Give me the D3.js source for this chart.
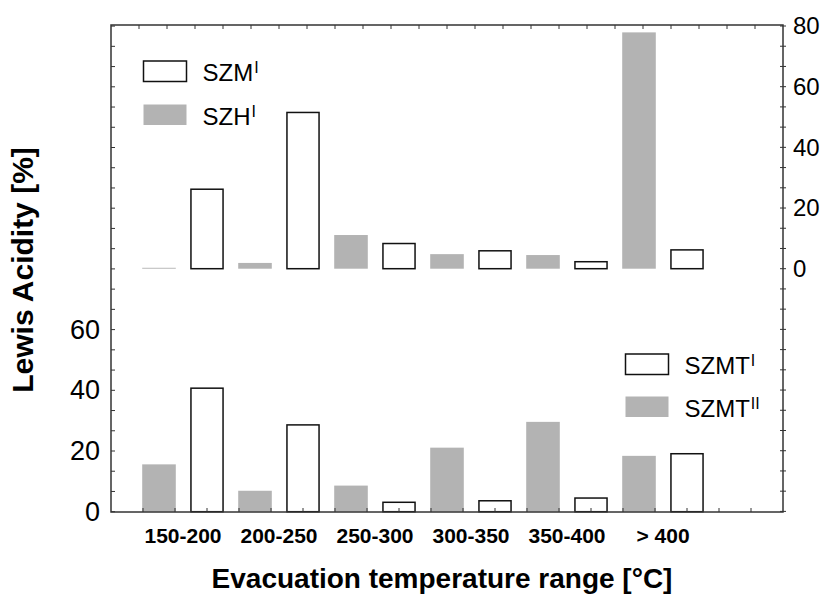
<!DOCTYPE html>
<html>
<head>
<meta charset="utf-8">
<script src="https://cdn.jsdelivr.net/npm/d3@7"></script>
<style>
  body { margin: 0; background: #fff; }
  svg { display: block; font-family: "Liberation Sans", Arial, sans-serif; }
</style>
</head>
<body>
<div id="chart"></div>
<script>
// values
var categories = ["150-200", "200-250", "250-300", "300-350", "350-400", "> 400"];
var szh1 = [0.3, 1.9, 11.1, 4.8, 4.5, 77.9];     // top panel, grey
var szm1 = [26.2, 51.5, 8.3, 5.9, 2.3, 6.2];     // top panel, white
var szmt2 = [15.6, 6.9, 8.6, 21.1, 29.6, 18.4];  // bottom panel, grey
var szmt1 = [40.7, 28.6, 3.1, 3.6, 4.5, 19.1];   // bottom panel, white
var topTicks = [0, 20, 40, 60, 80];
var bottomTicks = [0, 20, 40, 60];

var width = 826;
var height = 595;
var frame = {"left": 111, "right": 783, "top": 25, "bottom": 512};
var grey = "#b3b3b3";
var ink = "#000";
var line_color = "#333";

var svg = d3.select("#chart").append("svg")
    .attr("width", width)
    .attr("height", height);

// scales
var x = d3.scaleBand().domain(categories).range([135, 711]);
var xSub = d3.scaleBand().domain(["grey", "white"])
    .range([0, x.bandwidth()])
    .paddingInner(0.3)
    .paddingOuter(0.15);
var yTop = d3.scaleLinear().domain([0, 80]).range([268.7, 26]);
var yBot = d3.scaleLinear().domain([0, 60]).range([511.7, 329.6]);

function rows(greyVals, whiteVals) {
    var out = [];
    categories.forEach(function(c, i) {
        out.push({"cat": c, "key": "grey", "v": greyVals[i]});
        out.push({"cat": c, "key": "white", "v": whiteVals[i]});
    });
    return out;
}

function drawBars(data, y) {
    svg.append("g").selectAll("rect")
        .data(data)
        .enter()
        .append("rect")
        .attr("x", function(d) { return x(d.cat) + xSub(d.key) + (d.key == "white" ? 0.75 : 0); })
        .attr("width", function(d) { return xSub.bandwidth() - (d.key == "white" ? 1.5 : 0); })
        .attr("y", function(d) { return y(d.v); })
        .attr("height", function(d) { return y(0) - y(d.v); })
        .attr("fill", function(d) { return d.key == "grey" ? grey : "#fff"; })
        .attr("stroke", function(d) { return d.key == "white" ? "#111" : "none"; })
        .attr("stroke-width", 1.5);
}

drawBars(rows(szh1, szm1), yTop);
drawBars(rows(szmt2, szmt1), yBot);

// minor ticks on the frame
var tickG = svg.append("g").attr("stroke", line_color).attr("stroke-width", 1);
d3.range(0, 25).forEach(function(k) {
    var yy = yBot(k * 20 / 3);
    if (yy >= frame.top) tickG.append("line").attr("x1", frame.left).attr("x2", frame.left + 4).attr("y1", yy).attr("y2", yy);
});
d3.range(-12, 13).forEach(function(k) {
    var yy = yTop(k * 20 / 3);
    if (yy >= frame.top && yy <= frame.bottom) tickG.append("line").attr("x1", frame.right - 3).attr("x2", frame.right + 3).attr("y1", yy).attr("y2", yy);
});
var xTopTicks = d3.scaleLinear().domain([0, 24]).range([frame.left, frame.right]);
d3.range(1, 24).forEach(function(k) {
    tickG.append("line").attr("x1", xTopTicks(k)).attr("x2", xTopTicks(k)).attr("y1", frame.top).attr("y2", frame.top + 4);
});
var xBotTicks = d3.scaleLinear().domain([0, 21]).range([frame.left, frame.right]);
d3.range(1, 21).forEach(function(k) {
    tickG.append("line").attr("x1", xBotTicks(k)).attr("x2", xBotTicks(k)).attr("y1", frame.bottom).attr("y2", frame.bottom - 4);
});

// frame
svg.append("rect")
    .attr("x", frame.left)
    .attr("y", frame.top)
    .attr("width", frame.right - frame.left)
    .attr("height", frame.bottom - frame.top)
    .attr("fill", "none")
    .attr("stroke", line_color)
    .attr("stroke-width", 1.5);

// left axis (bottom panel)
var leftAxis = svg.append("g")
    .attr("transform", "translate(" + frame.left + ",0)")
    .call(d3.axisLeft(yBot).tickValues(bottomTicks).tickSize(0).tickPadding(11));
leftAxis.select(".domain").remove();
leftAxis.selectAll("text").attr("font-size", "27px").attr("fill", ink).attr("font-family", "Liberation Sans, Arial, sans-serif");

// right axis (top panel)
var rightAxis = svg.append("g")
    .attr("transform", "translate(" + frame.right + ",0)")
    .call(d3.axisRight(yTop).tickValues(topTicks).tickSize(0).tickPadding(10));
rightAxis.select(".domain").remove();
rightAxis.selectAll("text").attr("font-size", "24px").attr("fill", ink).attr("font-family", "Liberation Sans, Arial, sans-serif");

// category labels
svg.append("g").selectAll("text")
    .data(categories)
    .enter()
    .append("text")
    .attr("x", function(d) { return x(d) + x.bandwidth() / 2; })
    .attr("y", 543)
    .attr("text-anchor", "middle")
    .attr("font-size", "21px")
    .attr("font-weight", "bold")
    .attr("fill", ink)
    .text(function(d) { return d; });

// axis titles
svg.append("text")
    .attr("x", 442)
    .attr("y", 588)
    .attr("text-anchor", "middle")
    .attr("font-size", "28px")
    .attr("font-weight", "bold")
    .attr("fill", ink)
    .text("Evacuation temperature range [°C]");

svg.append("text")
    .attr("transform", "translate(33,270) rotate(-90)")
    .attr("text-anchor", "middle")
    .attr("font-size", "30px")
    .attr("font-weight", "bold")
    .attr("fill", ink)
    .text("Lewis Acidity [%]");

// legends
var legend_data = [
    {"x": 143.5, "y": 61, "fill": "#fff", "name": "SZM", "sup": "I"},
    {"x": 143.5, "y": 104.5, "fill": grey, "name": "SZH", "sup": "I"},
    {"x": 625.5, "y": 354, "fill": "#fff", "name": "SZMT", "sup": "I"},
    {"x": 625.5, "y": 396.5, "fill": grey, "name": "SZMT", "sup": "II"}
];

var leg = svg.append("g").selectAll("g")
    .data(legend_data)
    .enter()
    .append("g");

leg.append("rect")
    .attr("x", function(d) { return d.x; })
    .attr("y", function(d) { return d.y; })
    .attr("width", 43)
    .attr("height", 20.5)
    .attr("fill", function(d) { return d.fill; })
    .attr("stroke", function(d) { return d.fill == "#fff" ? "#111" : "none"; })
    .attr("stroke-width", 1.5);

var legText = leg.append("text")
    .attr("x", function(d) { return d.x + 59; })
    .attr("y", function(d) { return d.y + 20; })
    .attr("font-size", "24px")
    .attr("fill", ink);
legText.append("tspan").text(function(d) { return d.name; });
legText.append("tspan")
    .attr("dx", 1)
    .attr("dy", -8)
    .attr("font-size", "16px")
    .text(function(d) { return d.sup; });
</script>
</body>
</html>
